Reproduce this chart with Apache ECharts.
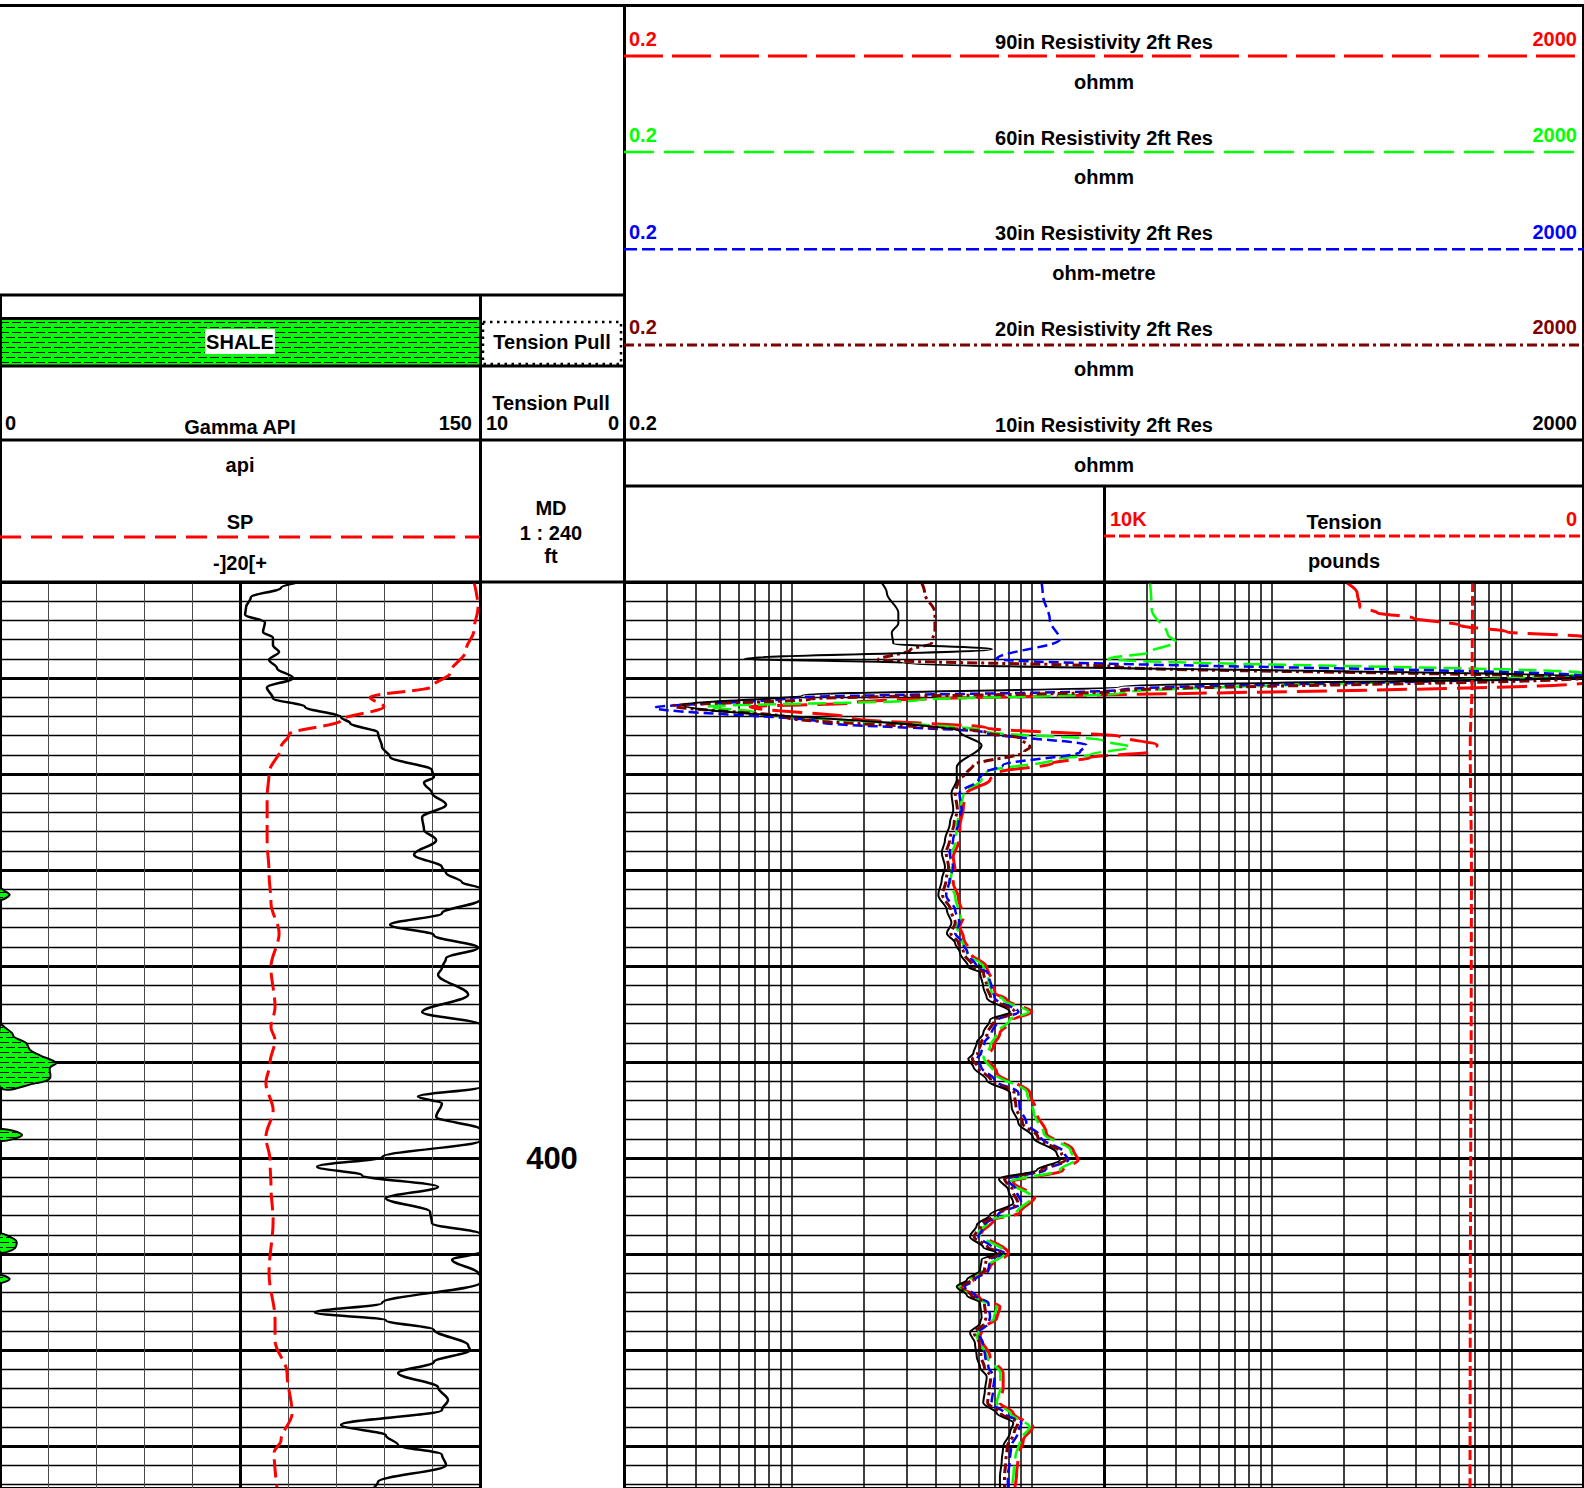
<!DOCTYPE html>
<html>
<head>
<meta charset="utf-8">
<title>Well log</title>
<script src="https://cdn.jsdelivr.net/npm/echarts@6.0.0/dist/echarts.min.js"></script>
<style>
  html, body { margin: 0; padding: 0; background: #ffffff; }
  #log { width: 1584px; height: 1488px; }
</style>
</head>
<body>
<div id="log"></div>
<script>
// Depth window of the log body, ft
const depthRange = [340, 434.375];

// Track scales
const gammaScale = [0, 150];
const spScale = [-100, 100];
const resScale = [0.2, 2000];
const tensionScale = [0, 10000];

// Gamma ray, API : [value, depth]
const gammaApi = [
  [92.2, 340.1], [87.8, 340.6], [78.4, 341.6], [76.9, 342.6], [76.6, 343.4], [82.8, 344.2],
  [82.2, 345.2], [85.3, 345.8], [85.3, 346.6], [87.2, 347.3], [84.1, 348.1], [86.6, 349.0],
  [91.6, 350.0], [83.4, 351.0], [85.3, 352.1], [95.3, 353.0], [106.6, 354.1], [109.4, 354.7],
  [118.1, 355.7], [119.4, 357.2], [121.9, 358.2], [135.0, 359.6], [135.6, 360.3], [132.5, 360.9],
  [135.0, 362.0], [139.4, 363.2], [131.9, 364.5], [132.5, 365.8], [136.3, 366.9], [129.4, 368.4],
  [138.1, 369.7], [139.4, 370.3], [144.4, 371.3], [150.0, 371.9], [151.5, 372.2], [153.0, 372.6],
  [150.0, 373.1], [138.1, 374.5], [121.9, 375.7], [135.6, 376.8], [149.4, 378.1], [139.4, 379.2],
  [138.1, 380.2], [136.9, 380.9], [146.3, 383.0], [131.9, 384.8], [150.0, 386.1], [151.9, 386.5],
  [153.8, 387.0], [154.4, 387.4], [158.1, 388.0], [159.4, 388.75], [162.5, 389.3], [167.5, 390.1],
  [165.6, 390.6], [165.6, 391.7], [161.3, 392.2], [150.0, 392.6], [130.6, 393.6], [138.1, 394.3],
  [136.3, 395.7], [150.0, 397.0], [156.9, 397.6], [150.0, 398.2], [119.4, 399.9], [99.1, 400.9],
  [113.1, 401.8], [136.9, 403.0], [120.6, 404.2], [134.4, 405.6], [135.0, 406.8], [150.0, 407.9],
  [153.0, 408.2], [155.0, 408.6], [155.0, 409.2], [153.8, 409.6], [150.0, 409.8], [141.3, 410.6],
  [149.4, 412.0], [150.0, 412.2], [153.0, 412.6], [150.0, 413.0], [119.4, 415.1], [98.4, 416.1],
  [120.6, 416.9], [135.6, 417.9], [146.3, 419.5], [146.9, 420.0], [135.6, 421.25], [124.4, 422.4],
  [136.9, 423.9], [140.0, 425.2], [138.1, 426.25], [106.6, 427.8], [120.6, 428.9], [124.4, 429.9],
  [138.1, 430.9], [139.4, 432.0], [118.1, 433.75], [116.9, 434.3]
];

// Spontaneous potential, mV : [value, depth]
const spMv = [
  [97.5, 340.0], [99.2, 342.6], [97.5, 345.0], [94.2, 347.1], [87.5, 349.5], [80.0, 350.9],
  [54.2, 352.0], [60.0, 353.0], [42.1, 354.4], [20.4, 355.9], [17.1, 357.2], [12.1, 359.9],
  [11.3, 362.4], [11.3, 366.9], [12.1, 370.3], [12.9, 373.4], [16.3, 376.6], [12.9, 380.1],
  [14.6, 384.3], [12.9, 386.4], [14.6, 387.7], [12.5, 390.1], [10.8, 392.2], [13.8, 395.0],
  [10.8, 397.8], [12.5, 400.2], [12.9, 403.0], [13.8, 406.5], [12.1, 412.0], [14.6, 416.9],
  [14.6, 419.0], [19.6, 422.4], [21.7, 426.6], [17.1, 429.4], [14.2, 430.7], [15.4, 434.3]
];

// 90in resistivity, ohmm : [value, depth]
const res90 = [
  [206, 340.1], [227, 341.15], [233, 342.6], [275, 343.2], [388, 343.75], [609, 344.5],
  [955, 345.2], [2000, 345.7], [2000, 350.5], [1.80, 352.6], [0.67, 353.0], [1.80, 354.2],
  [6.49, 355.2], [23.3, 356.1], [33.3, 357.0], [31.1, 357.7], [17.5, 358.3], [12.3, 358.85],
  [7.15, 359.9], [6.70, 360.6],
  [5.36, 362.0], [5.19, 363.4], [5.02, 365.5], [4.94, 367.2], [4.71, 368.6], [4.79, 370.0],
  [4.71, 371.35], [4.94, 372.8], [5.19, 374.9], [5.02, 375.9], [5.19, 377.0], [5.53, 378.6],
  [6.49, 380.1], [6.81, 381.5], [7.03, 382.8], [7.86, 383.5], [10.0, 384.8], [8.38, 385.6],
  [7.37, 387.0], [6.92, 388.4], [6.49, 389.5], [7.15, 391.1], [9.83, 393.2], [10.5, 395.3],
  [11.5, 397.4], [14.9, 399.2], [15.6, 400.2], [13.5, 401.25], [8.38, 402.5], [10.3, 404.06],
  [8.93, 405.7], [6.92, 406.5], [6.18, 407.8], [7.98, 409.9], [6.70, 411.35], [5.71, 412.7],
  [5.10, 413.5], [6.09, 414.6], [7.37, 415.5], [7.15, 416.7], [6.28, 417.7], [6.09, 418.6],
  [6.70, 420.7], [7.60, 422.4], [7.60, 423.9], [7.37, 425.5], [8.38, 426.6], [10.1, 428.0],
  [9.22, 429.4], [8.79, 431.1], [8.65, 432.8], [8.51, 434.3]
];

// 60in resistivity, ohmm : [value, depth]
const res60 = [
  [31.1, 340.1], [31.6, 342.9], [36.9, 345.5], [39.9, 346.25], [31.1, 347.3], [20.8, 348.0],
  [2000, 349.5], [23.3, 351.6], [3.42, 352.3], [0.444, 353.0], [0.69, 353.5], [6.49, 355.6],
  [19.8, 356.5], [25.7, 357.2], [17.5, 358.0], [12.3, 358.5], [6.49, 359.8], [6.18, 360.6],
  [5.20, 362.0], [5.05, 363.4], [4.87, 365.5], [4.80, 367.2], [4.57, 368.6], [4.65, 370.0],
  [4.57, 371.35], [4.80, 372.8], [5.05, 374.9], [4.87, 375.9], [5.05, 377.0], [5.37, 378.6],
  [6.30, 380.1], [6.60, 381.5], [6.80, 382.8], [7.60, 383.5], [9.70, 384.8], [8.10, 385.6],
  [7.15, 387.0], [6.70, 388.4], [6.30, 389.5], [6.95, 391.1], [9.55, 393.2], [10.2, 395.3],
  [11.2, 397.4], [14.5, 399.2], [15.1, 400.2], [13.1, 401.25], [8.10, 402.5], [10.0, 404.06],
  [8.65, 405.7], [6.70, 406.5], [6.00, 407.8], [7.75, 409.9], [6.50, 411.35], [5.55, 412.7],
  [4.95, 413.5], [5.90, 414.6], [7.15, 415.5], [6.95, 416.7], [6.10, 417.7], [5.90, 418.6],
  [6.50, 420.7], [7.40, 422.4], [7.40, 423.9], [7.15, 425.5], [8.15, 426.6], [9.80, 428.0],
  [8.95, 429.4], [8.55, 431.1], [8.40, 432.8], [8.25, 434.3]
];

// 30in resistivity, ohm-metre : [value, depth]
const res30 = [
  [11.0, 340.1], [11.1, 341.15], [11.9, 344.0], [13.1, 346.0], [7.15, 348.0], [2000, 349.8],
  [23.3, 351.25], [0.95, 352.1], [0.269, 353.1], [1.31, 354.6], [6.49, 355.7], [16.9, 357.0],
  [15.9, 357.7], [7.58, 359.1], [6.27, 359.9], [6.00, 360.6],
  [5.00, 362.0], [5.10, 363.75], [4.95, 365.1], [4.70, 366.9], [4.55, 368.2], [4.70, 369.7],
  [4.55, 371.0], [4.40, 372.6], [4.80, 374.2], [5.00, 375.5], [4.80, 376.6], [5.15, 377.6],
  [5.40, 378.6], [5.90, 380.1], [6.55, 380.7], [6.80, 382.2], [7.00, 383.3], [8.80, 384.8],
  [7.25, 385.6], [6.80, 387.0], [6.35, 388.0], [6.15, 389.1], [5.90, 389.7], [6.15, 390.5],
  [7.00, 391.9], [8.80, 393.2], [8.90, 394.7], [9.50, 396.35], [10.9, 397.8], [13.7, 399.5],
  [14.2, 400.2], [11.4, 401.25], [7.90, 402.2], [8.60, 403.3], [9.05, 404.7], [7.25, 405.9],
  [6.35, 407.0], [6.00, 408.2], [6.80, 409.3], [7.70, 409.9], [6.70, 410.6], [6.60, 411.7],
  [5.80, 412.7], [5.25, 413.4], [5.80, 414.3], [6.60, 415.1], [6.70, 416.6], [6.60, 417.2],
  [6.00, 418.2], [6.25, 419.3], [6.40, 420.7], [6.60, 421.8], [7.00, 422.8], [6.90, 424.2],
  [6.80, 425.5], [7.70, 426.6], [9.05, 427.6], [8.75, 428.6], [8.20, 430.1], [8.10, 431.5],
  [7.95, 433.2], [7.95, 434.3]
];

// 20in resistivity, ohmm : [value, depth]
const res20 = [
  [3.48, 340.1], [3.58, 341.15], [3.95, 343.2], [3.95, 345.0], [3.83, 346.35], [3.11, 347.1],
  [2.29, 348.1], [23.3, 348.85], [2000, 350.0], [22.0, 351.4], [1.20, 352.2], [0.32, 352.9],
  [0.95, 354.1], [6.49, 355.7], [8.93, 356.25], [9.83, 357.2], [9.30, 357.7], [5.71, 359.1],
  [5.36, 359.9], [4.95, 360.6],
  [4.80, 362.0], [4.90, 363.75], [4.75, 365.1], [4.55, 366.9], [4.40, 368.2], [4.50, 369.7],
  [4.40, 371.0], [4.25, 372.6], [4.60, 374.2], [4.80, 375.5], [4.60, 376.6], [4.95, 377.6],
  [5.20, 378.6], [5.70, 380.1], [6.30, 380.7], [6.50, 382.2], [6.75, 383.3], [8.50, 384.8],
  [7.00, 385.6], [6.55, 387.0], [6.15, 388.0], [5.95, 389.1], [5.65, 389.7], [5.95, 390.5],
  [6.75, 391.9], [8.45, 393.2], [8.60, 394.7], [9.15, 396.35], [10.6, 397.8], [13.3, 399.5],
  [13.8, 400.2], [11.0, 401.25], [7.70, 402.2], [8.30, 403.3], [8.75, 404.7], [7.00, 405.9],
  [6.15, 407.0], [5.75, 408.2], [6.55, 409.3], [7.45, 409.9], [6.45, 410.6], [6.35, 411.7],
  [5.60, 412.7], [5.05, 413.4], [5.60, 414.3], [6.35, 415.1], [6.45, 416.6], [6.35, 417.2],
  [5.75, 418.2], [6.05, 419.3], [6.15, 420.7], [6.35, 421.8], [6.75, 422.8], [6.65, 424.2],
  [6.55, 425.5], [7.45, 426.6], [8.75, 427.6], [8.45, 428.6], [7.90, 430.1], [7.80, 431.5],
  [7.70, 433.2], [7.70, 434.3]
];

// 10in resistivity, ohmm : [value, depth]
const res10 = [
  [2.37, 340.1], [2.49, 341.15], [2.78, 343.2], [2.78, 344.3], [2.61, 345.3], [2.65, 346.4],
  [6.83, 347.0], [0.638, 348.0], [2.91, 348.4], [2000, 349.9], [23.3, 350.9], [1.11, 351.8],
  [0.352, 352.8], [5.02, 355.6], [6.18, 357.0], [4.87, 359.3], [4.87, 360.6],
  [4.63, 362.0], [4.71, 363.75], [4.56, 365.1], [4.35, 366.9], [4.22, 368.2], [4.35, 369.7],
  [4.22, 371.0], [4.08, 372.6], [4.43, 374.2], [4.63, 375.5], [4.43, 376.6], [4.79, 377.6],
  [5.02, 378.6], [5.44, 380.1], [6.09, 380.7], [6.28, 382.2], [6.49, 383.3], [8.12, 384.8],
  [6.70, 385.6], [6.28, 387.0], [5.90, 388.0], [5.71, 389.1], [5.44, 389.7], [5.71, 390.5],
  [6.49, 391.9], [8.12, 393.2], [8.25, 394.7], [8.79, 396.35], [10.1, 397.8], [12.7, 399.5],
  [13.1, 400.2], [10.5, 401.25], [7.30, 402.2], [7.98, 403.3], [8.38, 404.7], [6.70, 405.9],
  [5.90, 407.0], [5.53, 408.2], [6.28, 409.3], [7.15, 409.9], [6.18, 410.6], [6.09, 411.7],
  [5.36, 412.7], [4.87, 413.4], [5.36, 414.3], [6.09, 415.1], [6.18, 416.6], [6.09, 417.2],
  [5.53, 418.2], [5.80, 419.3], [5.90, 420.7], [6.09, 421.8], [6.49, 422.8], [6.38, 424.2],
  [6.28, 425.5], [7.15, 426.6], [8.38, 427.6], [8.12, 428.6], [7.60, 430.1], [7.50, 431.5],
  [7.37, 433.2], [7.37, 434.3]
];

// Cable tension, pounds : [value, depth]
const tensionLb = [
  [2320, 340.0], [2330, 350.0], [2370, 357.0], [2345, 370.0], [2350, 385.0],
  [2360, 400.0], [2370, 415.0], [2375, 434.3]
];

// Log-cycle grid values of the resistivity track, ohmm
const resGridLines = [
  0.2, 0.3, 0.4, 0.5, 0.6, 0.7, 0.8, 0.9, 1,
  2, 3, 4, 5, 6, 7, 8, 9, 10,
  20, 30, 40, 50, 60, 70, 80, 90, 100,
  200, 300, 400, 500, 600, 700, 800, 900, 1000, 2000
];

// ---------------------------------------------------------------- layout
const BODY_TOP = 582, BODY_BOTTOM = 1488;
const X_GAMMA_R = 480, X_DEPTH_R = 624, X_RIGHT = 1584, X_TENSION_L = 1104;
const BODY_H = BODY_BOTTOM - BODY_TOP;
const FONT = 'bold 20px "Liberation Sans", Arial, Helvetica, sans-serif';
const RED = '#ff0000', GREEN = '#00ff00', BLUE = '#0000ff', MAROON = '#800000', BLACK = '#000000';

// shale lithology fill: green with staggered black dashes
function shalePattern() {
  const c = document.createElement('canvas');
  c.width = 12; c.height = 10;
  const g = c.getContext('2d');
  g.fillStyle = GREEN; g.fillRect(0, 0, 12, 10);
  g.fillStyle = BLACK;
  g.fillRect(0, 2, 9, 1);
  g.fillRect(6, 7, 6, 1);
  g.fillRect(0, 7, 3, 1);
  return { image: c.toDataURL(), repeat: 'repeat', imageWidth: 12, imageHeight: 10 };
}
const SHALE_FILL = shalePattern();

function txt(text, x, y, align, color, font, extra) {
  const style = Object.assign({
    text: text, x: x, y: y, fill: color || BLACK, font: font || FONT,
    align: align || 'center', verticalAlign: 'middle',
    textAlign: align || 'center', textVerticalAlign: 'middle'
  }, extra || {});
  return { type: 'text', z: 30, silent: true, style: style };
}
function ln(x1, y1, x2, y2, w, color, dash) {
  return {
    type: 'line', z: 25, silent: true,
    shape: { x1: x1, y1: y1, x2: x2, y2: y2 },
    style: { stroke: color || BLACK, lineWidth: w == null ? 3 : w, lineDash: dash || null }
  };
}

// resistivity headers, top to bottom
const resHeaders = [
  { title: '90in Resistivity 2ft Res', unit: 'ohmm', color: RED, dash: [39, 9], w: 3, yNum: 39, yTitle: 41.7, yLine: 56, yUnit: 81.7 },
  { title: '60in Resistivity 2ft Res', unit: 'ohmm', color: GREEN, dash: [30, 10], w: 2.5, yNum: 135, yTitle: 137.7, yLine: 152, yUnit: 177.3 },
  { title: '30in Resistivity 2ft Res', unit: 'ohm-metre', color: BLUE, dash: [13, 5], w: 2.5, yNum: 231.7, yTitle: 233.3, yLine: 249.3, yUnit: 273.3 },
  { title: '20in Resistivity 2ft Res', unit: 'ohmm', color: MAROON, dash: [10, 4, 3, 4], w: 3, yNum: 327.3, yTitle: 329.3, yLine: 345, yUnit: 369.3 },
  { title: '10in Resistivity 2ft Res', unit: 'ohmm', color: BLACK, dash: null, w: 0, yNum: 422.7, yTitle: 425, yLine: 440, yUnit: 465 }
];

const graphics = [];
// frame
graphics.push(ln(0, 5.5, X_RIGHT, 5.5, 3));
graphics.push(ln(X_DEPTH_R + 0.5, 4, X_DEPTH_R + 0.5, BODY_BOTTOM, 3));
graphics.push(ln(X_RIGHT - 1, 4, X_RIGHT - 1, BODY_BOTTOM, 2));
graphics.push(ln(0, 295, X_DEPTH_R, 295, 3));
graphics.push(ln(X_GAMMA_R + 0.5, 295, X_GAMMA_R + 0.5, BODY_BOTTOM, 3));
graphics.push(ln(1, 295, 1, BODY_TOP, 2));
// shale legend
graphics.push({ type: 'rect', z: 20, silent: true, shape: { x: 0, y: 318, width: X_GAMMA_R, height: 48 }, style: { fill: SHALE_FILL } });
graphics.push(ln(0, 318.5, X_GAMMA_R, 318.5, 3));
graphics.push(ln(0, 366, X_DEPTH_R, 366, 3));
graphics.push(txt('SHALE', 240, 341.5, 'center', BLACK, FONT, { backgroundColor: '#ffffff', padding: [3, 1, 2, 1] }));
// tension pull legend
graphics.push({ type: 'rect', z: 20, silent: true, shape: { x: 483, y: 322, width: 138, height: 42 }, style: { fill: '#ffffff', stroke: BLACK, lineWidth: 2.5, lineDash: [2.5, 4.5] } });
graphics.push(txt('Tension Pull', 552, 342));
// gamma header
graphics.push(txt('0', 5, 422.5, 'left'));
graphics.push(txt('Gamma API', 240, 426.5));
graphics.push(txt('150', 472, 422.5, 'right'));
graphics.push(txt('Tension Pull', 551, 403.3));
graphics.push(txt('10', 486, 423, 'left'));
graphics.push(txt('0', 619, 423, 'right'));
graphics.push(ln(0, 440, X_RIGHT, 440, 3));
graphics.push(txt('api', 240, 465));
graphics.push(txt('SP', 240, 521.7));
graphics.push(ln(0, 537, X_GAMMA_R, 537, 3, RED, [21, 10]));
graphics.push(txt('-]20[+', 240, 562.7));
graphics.push(txt('MD', 551, 508.3));
graphics.push(txt('1 : 240', 551, 532.7));
graphics.push(txt('ft', 551, 556));
graphics.push(ln(0, BODY_TOP, X_RIGHT, BODY_TOP, 3));
// resistivity headers
const resMid = (X_DEPTH_R + X_RIGHT) / 2;
resHeaders.forEach(function (h) {
  graphics.push(txt(String(resScale[0]), 629, h.yNum, 'left', h.color));
  graphics.push(txt(h.title, resMid, h.yTitle));
  graphics.push(txt(String(resScale[1]), 1577, h.yNum, 'right', h.color));
  if (h.w) graphics.push(ln(X_DEPTH_R, h.yLine, X_RIGHT, h.yLine, h.w, h.color, h.dash));
  graphics.push(txt(h.unit, resMid, h.yUnit));
});
graphics.push(ln(X_DEPTH_R, 486, X_RIGHT, 486, 3));
graphics.push(ln(X_TENSION_L + 0.5, 486, X_TENSION_L + 0.5, BODY_BOTTOM, 3));
// tension header
const tenMid = (X_TENSION_L + X_RIGHT) / 2;
graphics.push(txt('10K', 1110, 519.3, 'left', RED));
graphics.push(txt('Tension', tenMid, 521.7));
graphics.push(txt('0', 1577, 519.3, 'right', RED));
graphics.push(ln(X_TENSION_L, 536, X_RIGHT, 536, 3, RED, [11, 4]));
graphics.push(txt('pounds', tenMid, 560.7));

// ---------------------------------------------------------------- chart
const gridBox = (left, width) => ({ left: left, top: BODY_TOP, width: width, height: BODY_H, outerBoundsMode: 'none', containLabel: false, show: false });
const hidden = { show: true, axisLine: { show: false }, axisTick: { show: false }, axisLabel: { show: false } };
const depthAxis = (grid, extra) => Object.assign({
  type: 'value', gridIndex: grid, inverse: true, min: depthRange[0], max: depthRange[1],
  axisLine: { show: false }, axisTick: { show: false }, axisLabel: { show: false }, splitLine: { show: false }
}, extra || {});

const thinH = { show: true, lineStyle: { color: BLACK, width: 1.4 } };
const thickH = { show: true, lineStyle: { color: BLACK, width: 3 } };

const GAMMA_WRAP = gammaScale[1];

const chart = echarts.init(document.getElementById('log'), null, { renderer: 'svg', width: 1584, height: 1488 });

const resSeries = [
  { name: '90in Resistivity 2ft Res', data: res90, color: RED, dash: [30, 10], w: 3 },
  { name: '60in Resistivity 2ft Res', data: res60, color: GREEN, dash: [18, 7], w: 2.5 },
  { name: '30in Resistivity 2ft Res', data: res30, color: BLUE, dash: [10, 5], w: 2.5 },
  { name: '20in Resistivity 2ft Res', data: res20, color: MAROON, dash: [10, 4, 3, 4], w: 3 },
  { name: '10in Resistivity 2ft Res', data: res10, color: BLACK, dash: 'solid', w: 2 }
].map(function (c) {
  return {
    name: c.name, type: 'line', xAxisIndex: 4, yAxisIndex: 3, data: c.data,
    smooth: 0.35, smoothMonotone: 'y', showSymbol: false, symbol: 'none', clip: true, z: 5,
    lineStyle: { color: c.color, width: c.w, type: c.dash }, silent: true
  };
});

chart.setOption({
  animation: false,
  backgroundColor: '#ffffff',
  grid: [
    gridBox(0, X_GAMMA_R),                         // 0 gamma / SP
    gridBox(X_GAMMA_R, X_DEPTH_R - X_GAMMA_R),     // 1 depth
    gridBox(X_DEPTH_R, X_RIGHT - X_DEPTH_R),       // 2 resistivity
    gridBox(X_TENSION_L, X_RIGHT - X_TENSION_L)    // 3 tension
  ],
  xAxis: [
    Object.assign({}, hidden, { type: 'value', gridIndex: 0, min: gammaScale[0], max: gammaScale[1], interval: 15,
      splitLine: { show: true, lineStyle: { color: '#4a4a4a', width: 1 } } }),
    Object.assign({}, hidden, { type: 'value', gridIndex: 0, min: gammaScale[0], max: gammaScale[1], interval: 75,
      splitLine: { show: true, lineStyle: { color: BLACK, width: 3 } } }),
    Object.assign({}, hidden, { type: 'value', gridIndex: 0, min: spScale[0], max: spScale[1], splitLine: { show: false } }),
    Object.assign({}, hidden, { type: 'value', gridIndex: 1, min: 0, max: 1, splitLine: { show: false } }),
    Object.assign({}, hidden, { type: 'log', logBase: 10, gridIndex: 2, min: resScale[0], max: resScale[1], splitLine: { show: false } }),
    Object.assign({}, hidden, { type: 'value', gridIndex: 3, min: tensionScale[0], max: tensionScale[1], inverse: true, splitLine: { show: false } })
  ],
  yAxis: [
    depthAxis(0, { interval: 2, splitLine: thinH }),
    depthAxis(0, { interval: 10, splitLine: thickH }),
    depthAxis(1, {
      interval: 10,
      axisLabel: {
        show: true, inside: true, margin: 72, align: 'center', verticalAlign: 'middle',
        color: BLACK, fontSize: 31, fontWeight: 'bold', fontFamily: '"Liberation Sans", Arial, sans-serif',
        showMinLabel: false, showMaxLabel: false,
        formatter: function (v) { return v % 100 === 0 ? String(v) : ''; }
      }
    }),
    depthAxis(2, { interval: 2, splitLine: thinH }),
    depthAxis(2, { interval: 10, splitLine: thickH }),
    depthAxis(3)
  ],
  graphic: { elements: graphics },
  series: [
    // resistivity log-cycle grid
    {
      name: 'res-grid', type: 'line', xAxisIndex: 4, yAxisIndex: 3, data: [], z: 1, silent: true,
      markLine: {
        silent: true, symbol: ['none', 'none'], label: { show: false }, animation: false,
        lineStyle: { color: BLACK, width: 1.5, type: 'solid' },
        emphasis: { disabled: true },
        data: resGridLines.map(function (v) { return { xAxis: v }; })
      }
    },
    // gamma values above 150 API, wrapped onto the backup scale and shaded as shale
    {
      name: 'shale', type: 'custom', xAxisIndex: 0, yAxisIndex: 0, z: 4, silent: true,
      data: gammaApi, encode: { x: 0, y: 1 },
      renderItem: function (params, api) {
        if (params.dataIndex !== 0) return null;
        const children = [];
        let run = null;
        const flush = function () {
          if (run && run.length > 2) {
            children.push({
              type: 'polygon',
              shape: { points: run, smooth: 0.35 },
              style: { fill: SHALE_FILL, stroke: BLACK, lineWidth: 2 }
            });
          }
          run = null;
        };
        gammaApi.forEach(function (p) {
          if (p[0] >= GAMMA_WRAP) {
            (run = run || []).push(api.coord([p[0] - GAMMA_WRAP, p[1]]));
          } else {
            flush();
          }
        });
        flush();
        return { type: 'group', children: children };
      }
    },
    {
      name: 'SP', type: 'line', xAxisIndex: 2, yAxisIndex: 0, data: spMv, z: 5, silent: true,
      smooth: 0.35, smoothMonotone: 'y', showSymbol: false, symbol: 'none', clip: true,
      lineStyle: { color: RED, width: 3, type: [18, 7] }
    },
    {
      name: 'Gamma API', type: 'line', xAxisIndex: 0, yAxisIndex: 0, data: gammaApi, z: 6, silent: true,
      smooth: 0.35, smoothMonotone: 'y', showSymbol: false, symbol: 'none', clip: true,
      lineStyle: { color: BLACK, width: 2.5 }
    }
  ].concat(resSeries).concat([
    {
      name: 'Tension', type: 'line', xAxisIndex: 5, yAxisIndex: 5, data: tensionLb, z: 5, silent: true,
      smooth: 0.35, smoothMonotone: 'y', showSymbol: false, symbol: 'none', clip: true,
      lineStyle: { color: RED, width: 3, type: [10, 4] }
    }
  ])
});
</script>
</body>
</html>
